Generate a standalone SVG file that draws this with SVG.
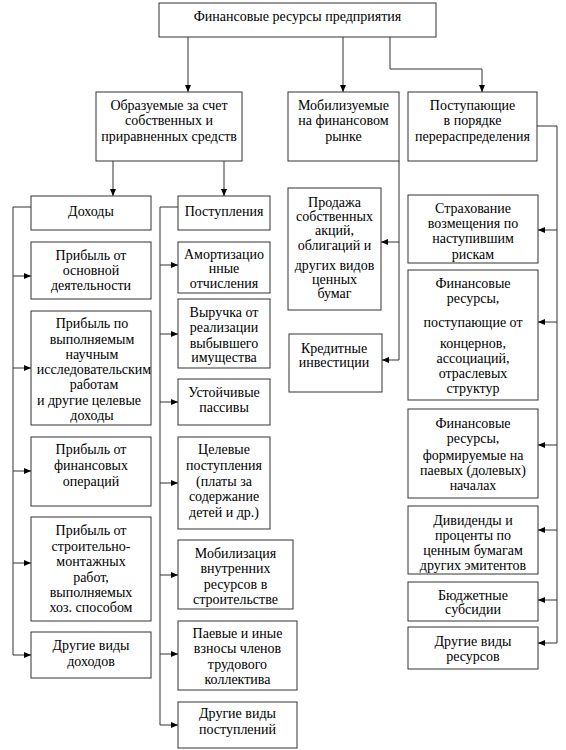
<svg xmlns="http://www.w3.org/2000/svg" width="566" height="750" viewBox="0 0 566 750">
<style>
.box{fill:#fff;stroke:#333;stroke-width:1}
.c{fill:none;stroke:#333;stroke-width:1}
.a{fill:none;stroke:#333;stroke-width:1;marker-end:url(#ah)}
text{font-family:"Liberation Serif","Times New Roman",serif;font-size:14px;fill:#000;text-anchor:middle}
</style>
<defs>
<marker id="ah" markerUnits="userSpaceOnUse" markerWidth="7" markerHeight="6" refX="7" refY="3" orient="auto">
<path d="M0,0 L7,3 L0,6 z" fill="#000"/>
</marker>
</defs>
<rect width="566" height="750" fill="#fff"/>
<g id="connectors">
<path class="a" d="M188,37 V92"/>
<path class="a" d="M343,37 V92"/>
<path class="a" d="M390,37 V69 H482 V92"/>
<path class="a" d="M113,161 V196"/>
<path class="a" d="M224,161 V196"/>
<path class="c" d="M31,207 H13 V655"/>
<path class="a" d="M13,276 H31"/>
<path class="a" d="M13,368 H31"/>
<path class="a" d="M13,471 H31"/>
<path class="a" d="M13,563 H31"/>
<path class="a" d="M13,655 H31"/>
<path class="c" d="M178,207 H160 V725"/>
<path class="a" d="M160,265 H178"/>
<path class="a" d="M160,334 H178"/>
<path class="a" d="M160,402 H178"/>
<path class="a" d="M160,483 H178"/>
<path class="a" d="M160,575 H178"/>
<path class="a" d="M160,654 H178"/>
<path class="a" d="M160,725 H178"/>
<path class="c" d="M399,161 V360"/>
<path class="a" d="M399,242 H381"/>
<path class="a" d="M399,360 H382"/>
<path class="c" d="M537,126 H557 V643"/>
<path class="a" d="M557,230 H538"/>
<path class="a" d="M557,322 H538"/>
<path class="a" d="M557,445 H538"/>
<path class="a" d="M557,530 H538"/>
<path class="a" d="M557,600 H538"/>
<path class="a" d="M557,643 H538"/>
</g>
<g id="top"><rect class="box" x="159" y="3" width="277" height="34"/><text x="297.5" y="21">Финансовые ресурсы предприятия</text></g>
<g id="obr"><rect class="box" x="96" y="92" width="146" height="69"/><text x="169" y="110">Образуемые за счет</text><text x="169" y="125">собственных и</text><text x="169" y="141">приравненных средств</text></g>
<g id="mob"><rect class="box" x="288" y="92" width="111" height="69"/><text x="343.5" y="110">Мобилизуемые</text><text x="343.5" y="125">на финансовом</text><text x="343.5" y="141">рынке</text></g>
<g id="post"><rect class="box" x="408" y="92" width="129" height="69"/><text x="472.5" y="110">Поступающие</text><text x="472.5" y="125">в порядке</text><text x="472.5" y="141">перераспределения</text></g>
<g id="doh"><rect class="box" x="31" y="196" width="120" height="34"/><text x="91" y="216">Доходы</text></g>
<g id="pst"><rect class="box" x="178" y="196" width="92" height="34"/><text x="224" y="216">Поступления</text></g>
<g id="d1"><rect class="box" x="31" y="242" width="120" height="57"/><text x="91" y="260">Прибыль от</text><text x="91" y="275">основной</text><text x="91" y="290">деятельности</text></g>
<g id="d2"><rect class="box" x="31" y="311" width="120" height="114"/><text x="92" y="328">Прибыль по</text><text x="92" y="344">выполняемым</text><text x="92" y="359">научным</text><text x="94" y="374">исследовательским</text><text x="94" y="389">работам</text><text x="89" y="405">и другие целевые</text><text x="92" y="420">доходы</text></g>
<g id="d3"><rect class="box" x="31" y="437" width="120" height="69"/><text x="91" y="454">Прибыль от</text><text x="91" y="470">финансовых</text><text x="91" y="486">операций</text></g>
<g id="d4"><rect class="box" x="31" y="517" width="120" height="104"/><text x="91" y="535">Прибыль от</text><text x="91" y="551">строительно-</text><text x="91" y="566">монтажных</text><text x="91" y="582">работ,</text><text x="91" y="597">выполняемых</text><text x="91" y="612">хоз. способом</text></g>
<g id="d5"><rect class="box" x="31" y="632" width="120" height="46"/><text x="91" y="650">Другие виды</text><text x="91" y="666">доходов</text></g>
<g id="p1"><rect class="box" x="178" y="242" width="92" height="51"/><text x="224" y="259">Амортизацио</text><text x="224" y="273">нные</text><text x="224" y="288">отчисления</text></g>
<g id="p2"><rect class="box" x="178" y="299" width="92" height="69"/><text x="224" y="317">Выручка от</text><text x="224" y="332">реализации</text><text x="224" y="348">выбывшего</text><text x="224" y="362">имущества</text></g>
<g id="p3"><rect class="box" x="178" y="379" width="92" height="46"/><text x="224" y="397">Устойчивые</text><text x="224" y="412">пассивы</text></g>
<g id="p4"><rect class="box" x="178" y="437" width="92" height="92"/><text x="224" y="454">Целевые</text><text x="224" y="470">поступления</text><text x="224" y="486">(платы за</text><text x="224" y="501">содержание</text><text x="224" y="517">детей и др.)</text></g>
<g id="p5"><rect class="box" x="178" y="540" width="115" height="69"/><text x="235.5" y="558">Мобилизация</text><text x="235.5" y="573">внутренних</text><text x="235.5" y="589">ресурсов в</text><text x="235.5" y="604">строительстве</text></g>
<g id="p6"><rect class="box" x="178" y="621" width="119" height="69"/><text x="237.5" y="638">Паевые и иные</text><text x="237.5" y="653">взносы членов</text><text x="237.5" y="669">трудового</text><text x="237.5" y="684">коллектива</text></g>
<g id="p7"><rect class="box" x="178" y="702" width="119" height="46"/><text x="237.5" y="718">Другие виды</text><text x="237.5" y="734">поступлений</text></g>
<g id="m1"><rect class="box" x="288" y="188" width="93" height="122"/><text x="334.5" y="207">Продажа</text><text x="334.5" y="221">собственных</text><text x="334.5" y="235">акций,</text><text x="334.5" y="250">облигаций и</text><text x="334.5" y="270">других видов</text><text x="334.5" y="284">ценных</text><text x="334.5" y="298">бумаг</text></g>
<g id="m2"><rect class="box" x="289" y="334" width="93" height="58"/><text x="334" y="353">Кредитные</text><text x="334" y="367">инвестиции</text></g>
<g id="r1"><rect class="box" x="408" y="195" width="130" height="68"/><text x="473" y="213">Страхование</text><text x="473" y="228">возмещения по</text><text x="473" y="243">наступившим</text><text x="473" y="259">рискам</text></g>
<g id="r2"><rect class="box" x="408" y="270" width="130" height="130"/><text x="473" y="288">Финансовые</text><text x="473" y="303">ресурсы,</text><text x="473" y="327">поступающие  от</text><text x="473" y="348">концернов,</text><text x="473" y="363">ассоциаций,</text><text x="473" y="378">отраслевых</text><text x="473" y="393">структур</text></g>
<g id="r3"><rect class="box" x="408" y="409" width="130" height="89"/><text x="473" y="428">Финансовые</text><text x="473" y="443">ресурсы,</text><text x="473" y="460">формируемые на</text><text x="473" y="475">паевых (долевых)</text><text x="473" y="490">началах</text></g>
<g id="r4"><rect class="box" x="408" y="506" width="130" height="68"/><text x="473" y="525">Дивиденды и</text><text x="473" y="540">проценты по</text><text x="473" y="555">ценным бумагам</text><text x="473" y="570">других эмитентов</text></g>
<g id="r5"><rect class="box" x="408" y="582" width="130" height="39"/><text x="473" y="600">Бюджетные</text><text x="473" y="614">субсидии</text></g>
<g id="r6"><rect class="box" x="408" y="627" width="130" height="42"/><text x="473" y="646">Другие виды</text><text x="473" y="661">ресурсов</text></g>
</svg>
